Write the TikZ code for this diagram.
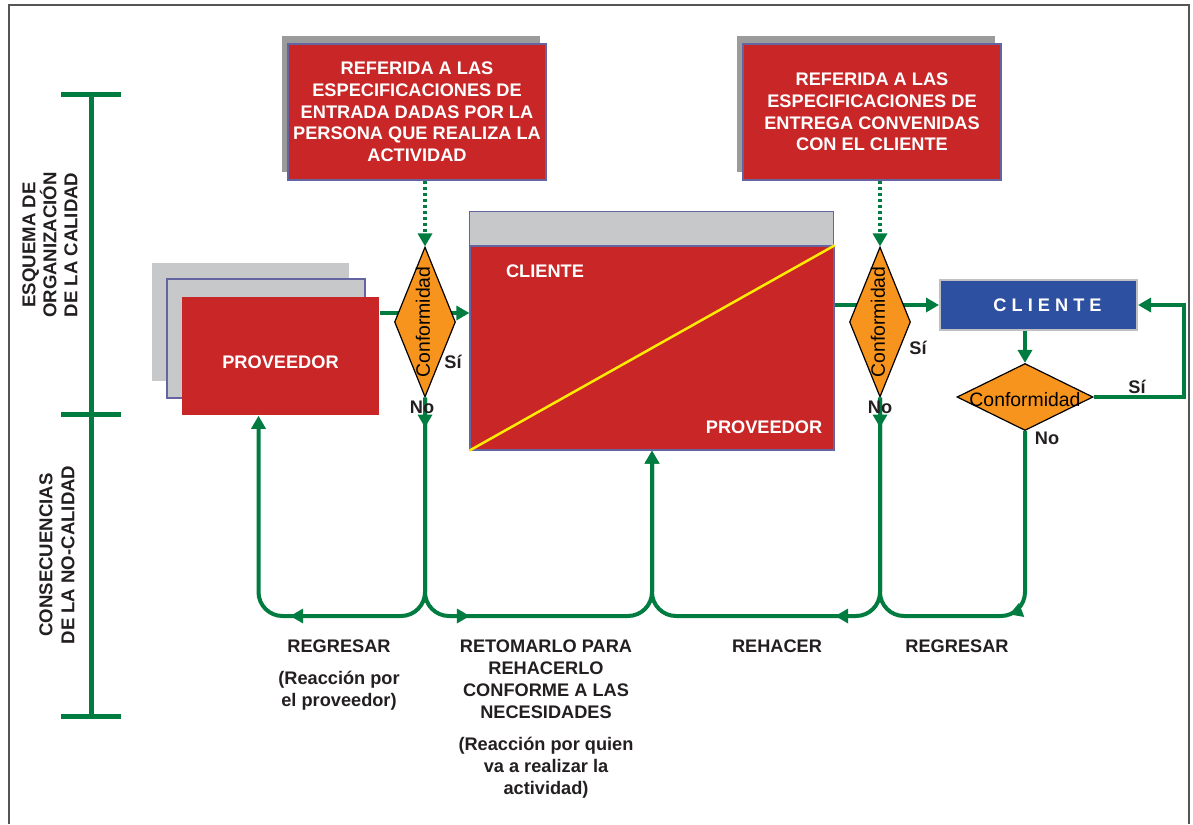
\documentclass[tikz,border=0pt]{standalone}
\usepackage{fontspec}
\setmainfont{Liberation Sans}
\usetikzlibrary{shapes.geometric,arrows.meta,decorations.markings,shadows,backgrounds}

\definecolor{boxred}{RGB}{200,38,39}
\definecolor{flowgreen}{RGB}{0,124,64}
\definecolor{deciorange}{RGB}{247,148,30}
\definecolor{clientblue}{RGB}{45,80,160}
\definecolor{clientedge}{RGB}{190,192,196}
\definecolor{edgeblue}{RGB}{100,100,160}
\definecolor{backgray}{RGB}{155,155,155}
\definecolor{panelgray}{RGB}{199,200,202}
\definecolor{inkblack}{RGB}{35,31,32}
\definecolor{diagyellow}{RGB}{255,236,0}
\definecolor{framegray}{RGB}{85,85,85}

\tikzset{
	>={Triangle[length=13pt,width=14pt]},
	txt/.style={font=\fontsize{18.2}{22}\selectfont\bfseries, text=inkblack, inner sep=0pt},
	whitetxt/.style={txt, text=white},
	redbox/.style={fill=boxred, draw=edgeblue, line width=1.5pt, inner sep=0pt},
	specbox/.style={redbox, minimum width=258pt, minimum height=136pt, align=center, text=white,
		font=\fontsize{18.2}{21.7}\selectfont\bfseries,
		drop shadow={shadow xshift=-6pt, shadow yshift=8pt, fill=backgray, opacity=1}},
	decision/.style={diamond, draw=black, line width=1.2pt, fill=deciorange, inner sep=0pt},
	conftxt/.style={font=\fontsize{19.4}{22}\selectfont, text=black, inner sep=0pt},
	flowline/.style={draw=flowgreen, line width=4pt},
	flow/.style={flowline, ->},
	specflow/.style={flow, dash pattern=on 3pt off 3pt},
	arrat/.style={postaction={decorate, decoration={markings, mark=at position #1 with {\arrow{>}}}}},
	bracket/.style={draw=flowgreen, line width=5pt},
}

\begin{document}
\begin{tikzpicture}[x=1pt, y=-1pt]
	\useasboundingbox (0,0) rectangle (1193,824);
	% frame
	\draw[framegray, line width=2pt] (9,824) -- (9,5) -- (1189,5) -- (1189,824);
	
	% brackets on the left
	\draw[bracket] (91,95) -- (91,716);
	\foreach \y in {95,414,716}
		\draw[bracket] (61,\y) -- (121,\y);
	\node[txt, rotate=90, align=center, font=\fontsize{18.6}{21}\selectfont\bfseries] (esquema) at (50,245)
		{ESQUEMA DE\\ORGANIZACIÓN\\DE LA CALIDAD};
	\node[txt, rotate=90, align=center, font=\fontsize{18.6}{22}\selectfont\bfseries] (consec) at (57,555)
		{CONSECUENCIAS\\DE LA NO-CALIDAD};
	
	% specification boxes
	\node[specbox] (refin) at (417,112)
		{REFERIDA A LAS\\ESPECIFICACIONES DE\\ENTRADA DADAS POR LA\\PERSONA QUE REALIZA LA\\ACTIVIDAD};
	\node[specbox] (refout) at (872,112)
		{REFERIDA A LAS\\ESPECIFICACIONES DE\\ENTREGA CONVENIDAS\\CON EL CLIENTE};
	
	% proveedor stack
	\fill[panelgray] (152,263) rectangle (349,381);
	\filldraw[fill=panelgray, draw=edgeblue, line width=1.2pt] (167,279) rectangle (365,398);
	\node[redbox, draw=none, minimum width=197pt, minimum height=118pt] (prov) at (280.5,356) {};
	\node[whitetxt] (provtxt) at ([yshift=-6pt]prov.center) {PROVEEDOR};
	
	% central box
	\node[redbox, line width=1.2pt, minimum width=364pt, minimum height=204pt] (cbox) at (652,348) {};
	\filldraw[fill=panelgray, draw=edgeblue, line width=1.2pt] (cbox.north west) rectangle ++(364,-34);
	\draw[diagyellow, line width=2.5pt] (cbox.south west) -- (cbox.north east);
	\node[whitetxt] (cboxcli) at (545,271) {CLIENTE};
	\node[whitetxt] (cboxprov) at (764,427) {PROVEEDOR};
	
	% client
	\node[fill=clientblue, draw=clientedge, line width=2pt, minimum width=197pt, minimum height=50pt] (cli) at (1038.5,305) {};
	\node[whitetxt] (clitxt) at ([xshift=9pt]cli.center) {C L I E N T E};
	
	% decisions
	\node[decision, minimum width=61pt, minimum height=150pt] (d1) at (425,322) {};
	\node[conftxt, rotate=90] (d1txt) at ([xshift=-2pt]d1.center) {Conformidad};
	\node[decision, minimum width=61pt, minimum height=150pt] (d2) at (880,322) {};
	\node[conftxt, rotate=90] (d2txt) at ([xshift=-2pt]d2.center) {Conformidad};
	\node[decision, minimum width=136pt, minimum height=67pt] (d3) at (1025,397) {};
	\node[conftxt] (d3txt) at ([yshift=-3pt]d3.center) {Conformidad};
	
	% main line, behind the decisions
	\begin{pgfonlayer}{background}
		\draw[flow] ([yshift=43pt]prov.east) -- ([yshift=43pt]prov.east -| cbox.west);
		\draw[flow] (cbox.east |- cli.west) -- (cli.west);
	\end{pgfonlayer}
	
	% specifications into decisions
	\draw[specflow] (refin.south -| d1.north) -- (d1.north);
	\draw[specflow] (refout.south -| d2.north) -- (d2.north);
	
	% client check
	\draw[flow] (cli.south -| d3.north) -- (d3.north);
	\draw[flow] (d3.east) -- ++(90,0) |- (cli.east);
	
	% non-conformity loops
	\coordinate (bot) at (0,616);
	\coordinate (p1) at ([xshift=-22pt]prov.south);
	\draw[flow, rounded corners=24pt, arrat=30pt, arrat=343pt] (d1.south) |- (bot -| p1) -- (p1);
	\draw[flow, rounded corners=24pt, arrat=253pt] (d1.south) |- (bot -| cbox.south) -- (cbox.south);
	\draw[flow, rounded corners=24pt, arrat=30pt, arrat=253pt] (d2.south) |- (bot -| cbox.south) -- (cbox.south);
	\draw[flowline, rounded corners=24pt, arrat=190pt] (d3.south) |- (bot -| d2.south) -- (d2.south);
	
	% answers
	\node[txt] (si1) at (453,362) {Sí};
	\node[txt] (no1) at (422,407) {No};
	\node[txt] (si2) at (918,348) {Sí};
	\node[txt] (no2) at (880,407) {No};
	\node[txt] (si3) at (1137,387) {Sí};
	\node[txt] (no3) at (1047,438) {No};
	
	% reactions
	\node[txt] (regr1) at (339,646) {REGRESAR};
	\node[txt, align=center] (regr1b) at (339,691) {(Reacción por\\el proveedor)};
	\node[txt, align=center] (retom) at (546,679) {RETOMARLO PARA\\REHACERLO\\CONFORME A LAS\\NECESIDADES};
	\node[txt, align=center] (retomb) at (546,768) {(Reacción por quien\\va a realizar la\\actividad)};
	\node[txt] (rehac) at (777,646) {REHACER};
	\node[txt] (regr2) at (957,646) {REGRESAR};
\end{tikzpicture}
\end{document}
